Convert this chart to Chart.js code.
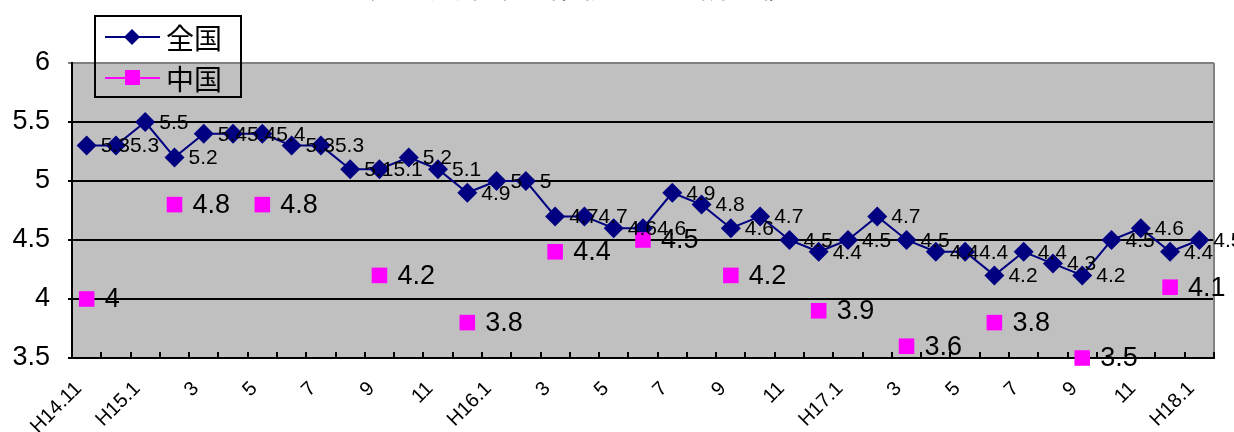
<!DOCTYPE html>
<html>
<head>
<meta charset="utf-8">
<script src="https://cdn.jsdelivr.net/npm/chart.js@4/dist/chart.umd.min.js"></script>
<style>
  body { margin: 0; background: #fff; }
  canvas { display: block; }
</style>
</head>
<body>
<canvas id="chart1" width="1234" height="432"></canvas>
<script>
// months H14.11 .. H18.1
const months = ['H14.11', '12',
    'H15.1', '2', '3', '4', '5', '6', '7', '8', '9', '10', '11', '12',
    'H16.1', '2', '3', '4', '5', '6', '7', '8', '9', '10', '11', '12',
    'H17.1', '2', '3', '4', '5', '6', '7', '8', '9', '10', '11', '12',
    'H18.1'];

const zenkoku = [5.3, 5.3, 5.5, 5.2, 5.4, 5.4, 5.4, 5.3, 5.3, 5.1, 5.1, 5.2, 5.1, 4.9,
    5.0, 5.0, 4.7, 4.7, 4.6, 4.6, 4.9, 4.8, 4.6, 4.7, 4.5, 4.4, 4.5, 4.7, 4.5,
    4.4, 4.4, 4.2, 4.4, 4.3, 4.2, 4.5, 4.6, 4.4, 4.5];

// chugoku region, quarterly values only
const chugoku = [4.0, null, null, 4.8, null, null, 4.8, null, null, null, 4.2, null, null,
    3.8, null, null, 4.4, null, null, 4.5, null, null, 4.2, null, null, 3.9, null,
    null, 3.6, null, null, 3.8, null, null, 3.5, null, null, 4.1, null];

const yTicks = [3.5, 4, 4.5, 5, 5.5, 6];
const seriesNames = ['全国', '中国'];
const titleText = '完全失業率の推移（季節調整値、％）';

const navy = '#000080';
const magenta = '#FF00FF';

function diamond(ctx, x, y, r) {
    ctx.beginPath();
    ctx.moveTo(x, y - r);
    ctx.lineTo(x + r, y);
    ctx.lineTo(x, y + r);
    ctx.lineTo(x - r, y);
    ctx.closePath();
    ctx.fill();
}

const plotDecor = {
    id: 'plotDecor',
    beforeDraw(chart) {
        const { ctx, chartArea: a } = chart;
        ctx.save();
        ctx.fillStyle = '#C0C0C0';
        ctx.fillRect(a.left, a.top, a.right - a.left, a.bottom - a.top);
        ctx.restore();
    },
    beforeDatasetsDraw(chart) {
        const { ctx, chartArea: a } = chart;
        ctx.save();
        // right border
        ctx.strokeStyle = '#808080';
        ctx.lineWidth = 2;
        ctx.beginPath();
        ctx.moveTo(a.right, a.top);
        ctx.lineTo(a.right, a.bottom);
        ctx.stroke();
        // small inward ticks between categories
        ctx.strokeStyle = '#000';
        const step = (a.right - a.left) / months.length;
        for (let i = 1; i <= months.length; i++) {
            const px = Math.round(a.left + i * step);
            ctx.beginPath();
            ctx.moveTo(px, a.bottom);
            ctx.lineTo(px, a.bottom - 6);
            ctx.stroke();
        }
        ctx.restore();
    },
    afterDatasetsDraw(chart) {
        const { ctx } = chart;
        ctx.save();
        ctx.fillStyle = '#000';
        ctx.textBaseline = 'middle';
        ctx.textAlign = 'left';
        // labels for 全国
        ctx.font = '21px "Liberation Sans", Arial, sans-serif';
        chart.getDatasetMeta(0).data.forEach((pt, i) => {
            ctx.fillText(String(zenkoku[i]), pt.x + 14, pt.y + 1);
        });
        // labels for 中国
        ctx.font = '27px "Liberation Sans", Arial, sans-serif';
        chart.getDatasetMeta(1).data.forEach((pt, i) => {
            if (chugoku[i] === null) return;
            ctx.fillText(String(chugoku[i]), pt.x + 18, pt.y + 1);
        });
        ctx.restore();
    },
    afterDraw(chart) {
        const { ctx } = chart;
        ctx.save();
        // title, mostly cut off by the top edge
        ctx.fillStyle = '#000';
        ctx.font = '30px "Noto Sans CJK JP", sans-serif';
        ctx.textAlign = 'center';
        ctx.textBaseline = 'alphabetic';
        ctx.fillText(titleText, 625, -3);

        // legend box
        ctx.strokeStyle = '#000';
        ctx.lineWidth = 2;
        ctx.strokeRect(95, 16, 146, 81);
        const rows = [{ y: 37, color: navy }, { y: 78, color: magenta }];
        rows.forEach((row, k) => {
            ctx.strokeStyle = row.color;
            ctx.lineWidth = 2;
            ctx.beginPath();
            ctx.moveTo(105, row.y);
            ctx.lineTo(160, row.y);
            ctx.stroke();
            ctx.fillStyle = row.color;
            if (k === 0) diamond(ctx, 132, row.y, 8);
            else ctx.fillRect(125, row.y - 8, 15, 15);
            ctx.fillStyle = '#000';
            ctx.font = '28px "Noto Sans CJK JP", sans-serif';
            ctx.textAlign = 'left';
            ctx.textBaseline = 'middle';
            ctx.fillText(seriesNames[k], 166, row.y + 1);
        });
        ctx.restore();
    }
};

new Chart(document.getElementById('chart1'), {
    type: 'line',
    data: {
        labels: months,
        datasets: [{
            label: seriesNames[0],
            data: zenkoku,
            borderColor: navy,
            backgroundColor: navy,
            borderWidth: 2,
            pointStyle: 'rectRot',
            pointRadius: 10,
            pointBorderWidth: 0,
            tension: 0,
            order: 2
        }, {
            label: seriesNames[1],
            data: chugoku,
            showLine: false,
            borderColor: magenta,
            backgroundColor: magenta,
            pointStyle: 'rect',
            pointRadius: 11,
            pointBorderWidth: 0,
            clip: false,
            order: 1
        }]
    },
    options: {
        responsive: false,
        animation: false,
        devicePixelRatio: 1,
        layout: { padding: { top: 63, right: 20, left: 0, bottom: 0 } },
        plugins: {
            legend: { display: false },
            tooltip: { enabled: false }
        },
        scales: {
            x: {
                offset: true,
                grid: { display: false },
                border: { display: true, color: '#000', width: 2 },
                afterFit: (scale) => { scale.height = 74; },
                ticks: {
                    autoSkip: false,
                    minRotation: 45,
                    maxRotation: 45,
                    padding: 11,
                    labelOffset: -8,
                    color: '#000',
                    font: { family: '"Liberation Sans", Arial, sans-serif', size: 20 },
                    callback: (v, i) => (i % 2 === 0 ? months[i] : '')
                }
            },
            y: {
                min: 3.5,
                max: 6,
                afterFit: (scale) => { scale.width = 72; },
                afterBuildTicks: (scale) => { scale.ticks = yTicks.map(v => ({ value: v })); },
                grid: {
                    color: (c) => (c.tick && c.tick.value === 6 ? '#808080' : '#000'),
                    lineWidth: 2,
                    tickLength: 4
                },
                border: { display: true, color: '#000', width: 2 },
                ticks: {
                    padding: 18,
                    color: '#000',
                    font: { family: '"Liberation Sans", Arial, sans-serif', size: 27 },
                    callback: (v) => String(v)
                }
            }
        }
    },
    plugins: [plotDecor]
});
</script>
</body>
</html>
